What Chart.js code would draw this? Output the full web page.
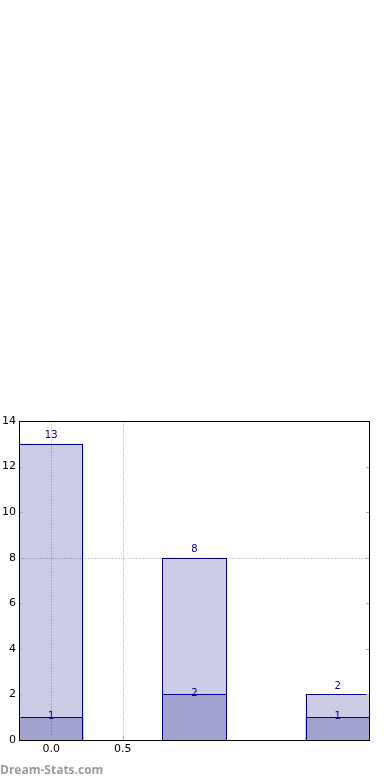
<!DOCTYPE html>
<html>
<head>
<meta charset="utf-8">
<script src="https://cdn.jsdelivr.net/npm/chart.js@4"></script>
<style>
  html, body { margin: 0; padding: 0; background: #fff; }
  #wrap { position: relative; width: 390px; height: 780px; }
  #mark {
    position: absolute; left: 0; top: 761px;
    font: bold 12px "Open Sans", sans-serif; color: #9a9a9a;
  }
</style>
</head>
<body>
<div id="wrap">
  <canvas id="chart"></canvas>
  <div id="mark">Dream-Stats.com</div>
</div>
<script>
const positions = [0, 1, 2];
const totalCounts = [13, 8, 2];
const subCounts = [1, 2, 1];
const xTickValues = [0, 0.5];
const yGridValues = [8];

const NAVY = '#000080';
const LIGHT = '#ccccE6';
const DARK = '#a3a3d0';

// crisp bar outlines, grid, frame, inside tick marks and value labels
const overlay = {
  id: 'overlay',
  afterDatasetsDraw(chart) {
    const {ctx, chartArea: a, scales: {x, y}} = chart;
    ctx.save();
    ctx.lineWidth = 1;

    // bar outlines, light bars first then dark
    ctx.strokeStyle = NAVY;
    [1, 0].forEach(di => {
      chart.getDatasetMeta(di).data.forEach(bar => {
        const p = bar.getProps(['x', 'y', 'base', 'width'], true);
        const l = Math.round(p.x - p.width / 2);
        const r = Math.min(Math.round(p.x + p.width / 2), Math.round(a.right));
        const t = Math.round(p.y);
        const b = Math.round(p.base);
        ctx.strokeRect(l + 0.5, t + 0.5, r - l - 1, b - t);
      });
    });

    ctx.strokeStyle = 'rgba(0,0,0,0.2)';
    ctx.setLineDash([2, 1]);
    xTickValues.forEach(v => {
      const px = Math.round(x.getPixelForValue(v)) + 0.5;
      ctx.beginPath(); ctx.moveTo(px, a.top); ctx.lineTo(px, a.bottom); ctx.stroke();
    });
    yGridValues.forEach(v => {
      const py = Math.round(y.getPixelForValue(v)) + 0.5;
      ctx.beginPath(); ctx.moveTo(a.left, py); ctx.lineTo(a.right, py); ctx.stroke();
    });
    ctx.setLineDash([]);

    // inside tick marks
    ctx.strokeStyle = '#aaaaaa';
    y.ticks.forEach(t => {
      const py = Math.round(y.getPixelForValue(t.value)) + 0.5;
      ctx.beginPath(); ctx.moveTo(a.left, py); ctx.lineTo(a.left + 4, py); ctx.stroke();
      ctx.beginPath(); ctx.moveTo(a.right - 4, py); ctx.lineTo(a.right, py); ctx.stroke();
    });
    xTickValues.forEach(v => {
      const px = Math.round(x.getPixelForValue(v)) + 0.5;
      ctx.beginPath(); ctx.moveTo(px, a.bottom); ctx.lineTo(px, a.bottom - 4); ctx.stroke();
    });

    // frame
    ctx.strokeStyle = '#000';
    ctx.strokeRect(Math.round(a.left) + 0.5, Math.round(a.top) + 0.5,
      Math.round(a.right - a.left) - 1, Math.round(a.bottom - a.top));

    // value labels
    ctx.fillStyle = NAVY;
    ctx.font = '10px "DejaVu Sans", sans-serif';
    ctx.textAlign = 'center';
    positions.forEach((p, i) => {
      const px = x.getPixelForValue(p);
      ctx.textBaseline = 'bottom';
      ctx.fillText(String(totalCounts[i]), px, y.getPixelForValue(totalCounts[i]) - 3);
      ctx.textBaseline = 'middle';
      ctx.fillText(String(subCounts[i]), px, y.getPixelForValue(subCounts[i]) - 1);
    });
    ctx.restore();
  }
};

new Chart(document.getElementById('chart'), {
  type: 'bar',
  data: {
    datasets: [
      {
        label: 'sub',
        data: positions.map((p, i) => ({x: p, y: subCounts[i]})),
        backgroundColor: DARK,
        borderWidth: 0,
        order: 0
      },
      {
        label: 'total',
        data: positions.map((p, i) => ({x: p, y: totalCounts[i]})),
        backgroundColor: LIGHT,
        borderWidth: 0,
        order: 1
      }
    ]
  },
  options: {
    responsive: true,
    maintainAspectRatio: false,
    animation: false,
    grouped: false,
    barPercentage: 0.9,
    categoryPercentage: 1,
    layout: { padding: { top: 421, right: 20, left: 0, bottom: 0 } },
    plugins: { legend: { display: false }, tooltip: { enabled: false } },
    scales: {
      x: {
        type: 'linear',
        offset: false,
        min: -0.225,
        max: 2.225,
        afterBuildTicks: s => { s.ticks = xTickValues.map(v => ({value: v})); },
        afterFit: s => { s.height = 40; },
        grid: { display: false, drawTicks: false, offset: false },
        border: { display: false },
        ticks: {
          padding: 3,
          color: '#000',
          font: { family: '"DejaVu Sans"', size: 11 },
          callback: v => Number(v).toFixed(1)
        }
      },
      y: {
        min: 0,
        max: 14,
        afterFit: s => { s.width = 19; },
        grid: { display: false, drawTicks: false },
        border: { display: false },
        ticks: {
          stepSize: 2,
          padding: 3,
          color: '#000',
          font: { family: '"DejaVu Sans"', size: 11 }
        }
      }
    }
  },
  plugins: [overlay]
});
</script>
</body>
</html>
